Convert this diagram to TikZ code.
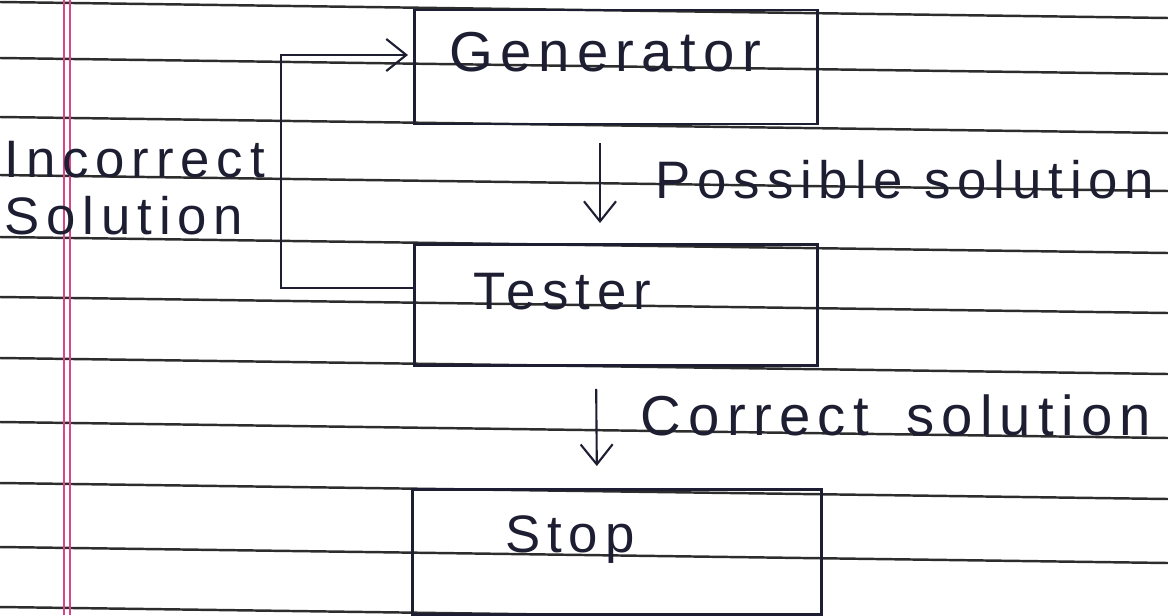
\documentclass[tikz,border=0pt]{standalone}
\usepackage{fontspec}
\setmainfont{Liberation Sans}[LetterSpace=13]
\usetikzlibrary{arrows.meta,positioning}
\definecolor{InkColor}{RGB}{30,30,50}
\definecolor{RuleColor}{RGB}{45,45,45}
\definecolor{MarginPink}{RGB}{215,70,140}
\tikzset{
  blockbox/.style={draw=InkColor, line width=0.8pt, minimum width=4.03cm, inner sep=0pt},
  handtext/.style={text=InkColor, font=\fontsize{15}{16}\selectfont, inner sep=0pt},
  flow/.style={draw=InkColor, line width=0.6pt, -{Straight Barb[length=2mm,width=3.2mm]}},
}
\begin{document}
\begin{tikzpicture}[x=0.01cm, y=-0.01cm]
      \useasboundingbox (0,0) rectangle (1168,615);
      \foreach \y in {2,58,117,175,237,297,358,422,483,547,607}
        \draw[RuleColor, line width=0.7pt] (0,\y) -- (1168,{\y+16});
      \draw[MarginPink, line width=0.6pt] (64,0) -- (64,615);
      \draw[MarginPink, line width=0.6pt] (70,0) -- (70,615);
      \node[blockbox, minimum height=1.14cm] (gen) at (616,67) {};
      \node[blockbox, minimum height=1.21cm] (tst) at (616,305) {};
      \node[blockbox, minimum height=1.25cm, minimum width=4.09cm] (stp) at (617,552) {};
      \node[handtext, font=\fontsize{16}{16}\selectfont] (gentxt) at (605,52) {Generator};
      \node[handtext] (tsttxt) at (562,292) {Tester};
      \node[handtext] (stptxt) at (570,540) {Stop};
      \node[handtext, anchor=west] (possible) at (655,180) {Possible solution};
      \node[handtext, anchor=west, font=\fontsize{16}{16}\selectfont] (correct) at (640,415) {Correct\hspace{0.25em} solution};
      \node[handtext, anchor=west, align=left] (incorrect) at (4,188) {Incorrect\\Solution};
      \draw[flow, shorten <=0.18cm, shorten >=0.2cm] ([xshift=-0.16cm]gen.south) -- ([xshift=-0.16cm]tst.north);
      \draw[flow, shorten <=0.22cm, shorten >=0.22cm] ([xshift=-0.2cm]tst.south) -- ([xshift=-0.2cm]stp.north);
      \draw[flow, shorten >=0.05cm] ([yshift=0.17cm]tst.west) -- ++(-1.32cm,0) |- ([yshift=0.12cm]gen.west);
    \end{tikzpicture}
\end{document}
